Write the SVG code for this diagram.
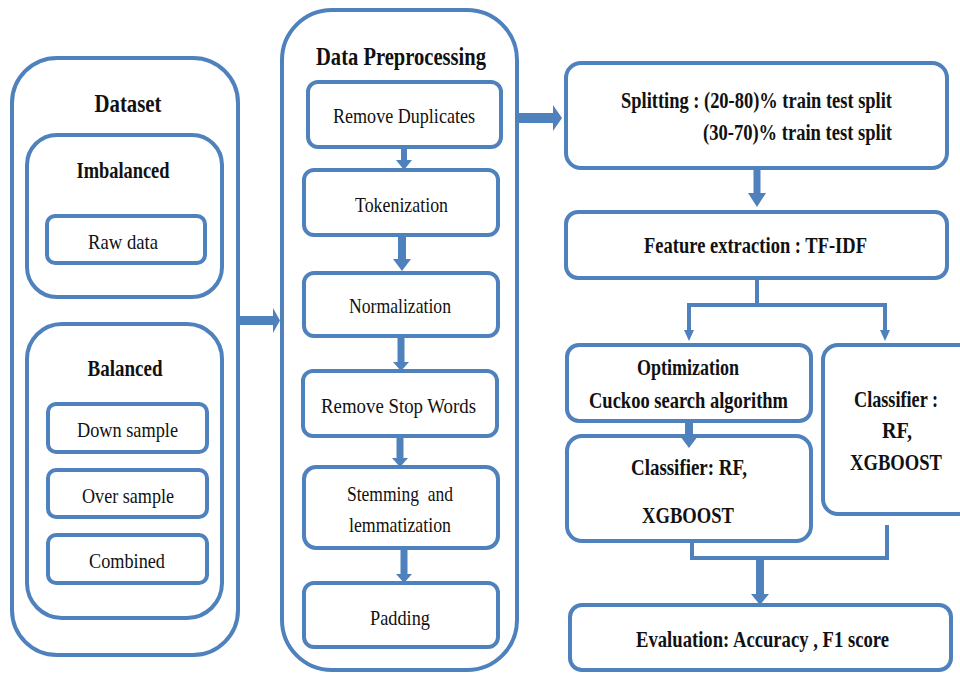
<svg xmlns="http://www.w3.org/2000/svg" width="960" height="673" viewBox="0 0 960 673" font-family="'Liberation Serif', 'DejaVu Serif', serif">
<style>
.box{fill:#fff;stroke:#4F81BD;stroke-width:4}
.ln{fill:none;stroke:#4F81BD;stroke-width:4}
.sh{fill:none;stroke:#4F81BD}
.hd{fill:#4F81BD}
text{font-family:'Liberation Serif','DejaVu Serif',serif;fill:#111;text-anchor:middle}
.r{font-size:22px}
.b{font-size:23px;font-weight:bold}
.t{font-size:26px;font-weight:bold}
</style>
<rect width="960" height="673" fill="#fff"/>

<g id="dataset">
<rect class="box" x="12" y="58" width="226" height="597" rx="45"/>
<text class="t" x="128" y="112" textLength="67" lengthAdjust="spacingAndGlyphs">Dataset</text>
</g>
<g id="imbalanced">
<rect class="box" x="27" y="135" width="195" height="162" rx="30"/>
<text class="b" x="123" y="178" textLength="93" lengthAdjust="spacingAndGlyphs">Imbalanced</text>
</g>
<g id="rawdata">
<rect class="box" x="47" y="216" width="158" height="47" rx="8"/>
<text class="r" x="123" y="249" textLength="70" lengthAdjust="spacingAndGlyphs">Raw data</text>
</g>
<g id="balanced">
<rect class="box" x="27" y="324" width="195" height="294" rx="35"/>
<text class="b" x="125" y="376" textLength="75" lengthAdjust="spacingAndGlyphs">Balanced</text>
</g>
<g id="downsample">
<rect class="box" x="48" y="404" width="159" height="48" rx="8"/>
<text class="r" x="127.5" y="437" textLength="101" lengthAdjust="spacingAndGlyphs">Down sample</text>
</g>
<g id="oversample">
<rect class="box" x="48" y="470" width="159" height="47" rx="8"/>
<text class="r" x="128" y="503" textLength="92" lengthAdjust="spacingAndGlyphs">Over sample</text>
</g>
<g id="combined">
<rect class="box" x="48" y="535" width="159" height="48" rx="8"/>
<text class="r" x="127" y="568" textLength="76" lengthAdjust="spacingAndGlyphs">Combined</text>
</g>

<g id="preprocessing">
<rect class="box" x="282" y="10" width="235" height="660" rx="50"/>
<text class="t" x="401" y="65" textLength="170" lengthAdjust="spacingAndGlyphs">Data Preprocessing</text>
</g>
<g id="removedup">
<rect class="box" x="308" y="82" width="193" height="65" rx="10"/>
<text class="r" x="404" y="123" textLength="142" lengthAdjust="spacingAndGlyphs">Remove Duplicates</text>
</g>
<g id="tokenization">
<rect class="box" x="304" y="170" width="194" height="65" rx="10"/>
<text class="r" x="401.5" y="212" textLength="93" lengthAdjust="spacingAndGlyphs">Tokenization</text>
</g>
<g id="normalization">
<rect class="box" x="304" y="273" width="194" height="63" rx="10"/>
<text class="r" x="400" y="313" textLength="102" lengthAdjust="spacingAndGlyphs">Normalization</text>
</g>
<g id="stopwords">
<rect class="box" x="303" y="371" width="194" height="65" rx="10"/>
<text class="r" x="398.5" y="413" textLength="155" lengthAdjust="spacingAndGlyphs">Remove Stop Words</text>
</g>
<g id="stemming">
<rect class="box" x="304" y="467" width="194" height="81" rx="12"/>
<text class="r" x="400" y="501" textLength="106" lengthAdjust="spacingAndGlyphs" xml:space="preserve">Stemming  and</text>
<text class="r" x="400" y="532" textLength="102" lengthAdjust="spacingAndGlyphs">lemmatization</text>
</g>
<g id="padding">
<rect class="box" x="304" y="583" width="194" height="64" rx="10"/>
<text class="r" x="400" y="625" textLength="60" lengthAdjust="spacingAndGlyphs">Padding</text>
</g>

<g id="splitting">
<rect class="box" x="566" y="63" width="381" height="105" rx="15"/>
<text class="b" x="621" y="108" style="text-anchor:start" textLength="271" lengthAdjust="spacingAndGlyphs">Splitting : (20-80)% train test split</text>
<text class="b" x="703" y="140" style="text-anchor:start" textLength="189" lengthAdjust="spacingAndGlyphs">(30-70)% train test split</text>
</g>
<g id="feature">
<rect class="box" x="566" y="212" width="381" height="66" rx="12"/>
<text class="b" x="755.5" y="253" textLength="223" lengthAdjust="spacingAndGlyphs">Feature extraction : TF-IDF</text>
</g>
<g id="optimization">
<rect class="box" x="567" y="345" width="244" height="76" rx="12"/>
<text class="b" x="688" y="375" textLength="102" lengthAdjust="spacingAndGlyphs">Optimization</text>
<text class="b" x="688.5" y="408" textLength="199" lengthAdjust="spacingAndGlyphs">Cuckoo search algorithm</text>
</g>
<g id="classifier1">
<rect class="box" x="567" y="436" width="244" height="105" rx="15"/>
<text class="b" x="689" y="475" textLength="116" lengthAdjust="spacingAndGlyphs">Classifier: RF,</text>
<text class="b" x="688" y="523" textLength="92" lengthAdjust="spacingAndGlyphs">XGBOOST</text>
</g>
<g id="classifier2">
<rect class="box" x="823" y="345" width="170" height="169" rx="15"/>
<text class="b" x="896" y="407" textLength="84" lengthAdjust="spacingAndGlyphs">Classifier :</text>
<text class="b" x="897" y="438" textLength="30" lengthAdjust="spacingAndGlyphs">RF,</text>
<text class="b" x="896" y="470" textLength="92" lengthAdjust="spacingAndGlyphs">XGBOOST</text>
</g>
<g id="evaluation">
<rect class="box" x="570" y="605" width="381" height="65" rx="12"/>
<text class="b" x="762.5" y="647" textLength="253" lengthAdjust="spacingAndGlyphs">Evaluation: Accuracy , F1 score</text>
</g>

<g id="connectors">
<line class="sh" x1="238" y1="320.5" x2="274" y2="320.5" stroke-width="9"/>
<polygon class="hd" points="273,308 280,320.5 273,333"/>
<line class="sh" x1="517" y1="118" x2="554" y2="118" stroke-width="10"/>
<polygon class="hd" points="553,105 562,118 553,131"/>

<line class="sh" x1="404" y1="147" x2="404" y2="161" stroke-width="6"/>
<polygon class="hd" points="396,160 412,160 404,170"/>
<line class="sh" x1="402" y1="235" x2="402" y2="260" stroke-width="8"/>
<polygon class="hd" points="393,259 411,259 402,271"/>
<line class="sh" x1="401" y1="336" x2="401" y2="363" stroke-width="7"/>
<polygon class="hd" points="393,362 409,362 401,371"/>
<line class="sh" x1="400" y1="436" x2="400" y2="459" stroke-width="7"/>
<polygon class="hd" points="392,458 408,458 400,467"/>
<line class="sh" x1="404" y1="548" x2="404" y2="575" stroke-width="7"/>
<polygon class="hd" points="396,574 412,574 404,583"/>

<line class="sh" x1="757" y1="168" x2="757" y2="194" stroke-width="7"/>
<polygon class="hd" points="748,193 766,193 757,207"/>

<path class="ln" d="M757 278 V305 M689 305 H885 M689 303 V332 M885 303 V332"/>
<polygon class="hd" points="684,330 694,330 689,341"/>
<polygon class="hd" points="880,330 890,330 885,341"/>

<line class="sh" x1="689" y1="421" x2="689" y2="438" stroke-width="8"/>
<polygon class="hd" points="680,436 698,436 689,448"/>

<path class="ln" d="M692 541 V558 H887 V525"/>
<line class="sh" x1="760" y1="558" x2="760" y2="595" stroke-width="8"/>
<polygon class="hd" points="751,594 769,594 760,605"/>
</g>
</svg>
